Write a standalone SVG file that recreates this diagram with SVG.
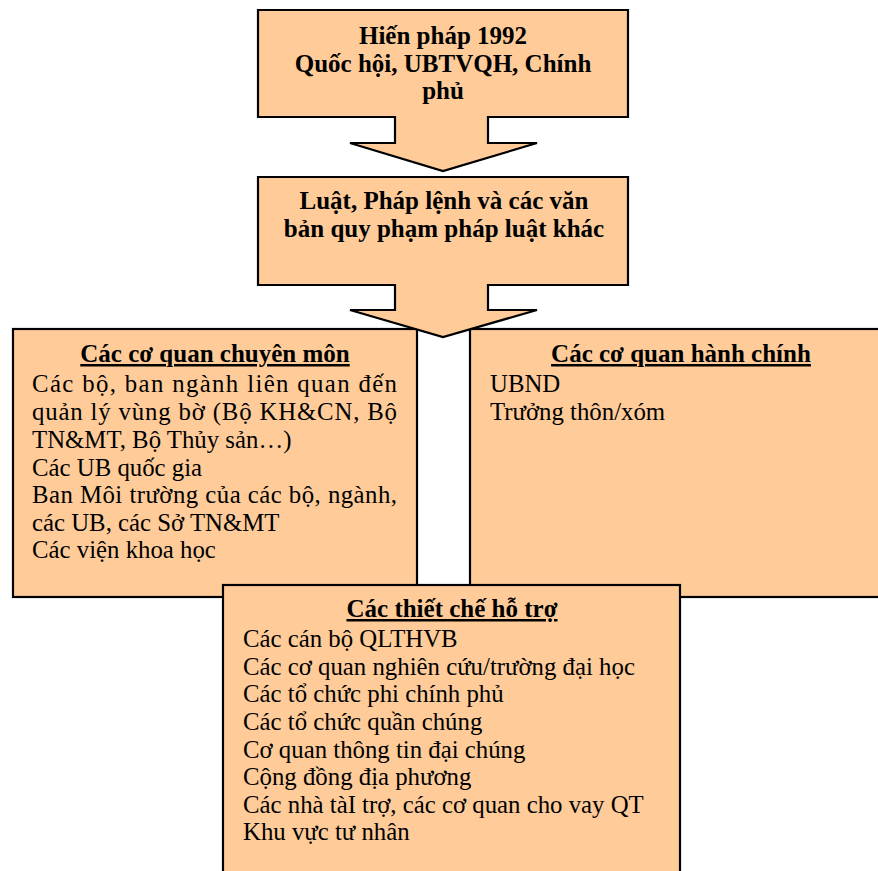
<svg xmlns="http://www.w3.org/2000/svg" width="878" height="871" viewBox="0 0 878 871">
<style>
.box{fill:#FFCC99;stroke:#000;stroke-width:2.2;stroke-linejoin:miter}
text{font-family:'Liberation Serif','DejaVu Serif',serif;font-size:24.8px;fill:#000}
.b{font-weight:bold;font-size:25px}
.u{text-decoration:underline}
.c{text-anchor:middle}
</style>
<rect x="0" y="0" width="878" height="871" fill="#fff"/>
<g id="left">
<rect class="box" x="13" y="329" width="404" height="268"/>
<text class="b u c" x="215" y="362">Các cơ quan chuyên môn</text>
<text x="32" y="392" textLength="365" lengthAdjust="spacing">Các bộ, ban ngành liên quan đến</text>
<text x="32" y="420" textLength="365" lengthAdjust="spacing">quản lý vùng bờ (Bộ KH&amp;CN, Bộ</text>
<text x="32" y="448">TN&amp;MT, Bộ Thủy sản…)</text>
<text x="32" y="476">Các UB quốc gia</text>
<text x="32" y="503" textLength="365" lengthAdjust="spacing">Ban Môi trường của các bộ, ngành,</text>
<text x="32" y="531">các UB, các Sở TN&amp;MT</text>
<text x="32" y="558">Các viện khoa học</text>
</g>
<g id="right">
<rect class="box" x="470" y="329" width="412" height="268"/>
<text class="b u c" x="681" y="362">Các cơ quan hành chính</text>
<text x="490" y="392">UBND</text>
<text x="490" y="420">Trưởng thôn/xóm</text>
</g>
<g id="support">
<rect class="box" x="223" y="585" width="457" height="295"/>
<text class="b u c" x="452" y="617">Các thiết chế hỗ trợ</text>
<text x="243" y="647">Các cán bộ QLTHVB</text>
<text x="243" y="675">Các cơ quan nghiên cứu/trường đại học</text>
<text x="243" y="702">Các tổ chức phi chính phủ</text>
<text x="243" y="730">Các tổ chức quần chúng</text>
<text x="243" y="758">Cơ quan thông tin đại chúng</text>
<text x="243" y="785">Cộng đồng địa phương</text>
<text x="243" y="813">Các nhà tàI trợ, các cơ quan cho vay QT</text>
<text x="243" y="840">Khu vực tư nhân</text>
</g>
<g id="connectors">
<path class="box" d="M258,10 H628 V117 H488 V143 H537 L443,171 L350,143 H395 V117 H258 Z"/>
<path class="box" d="M258,177 H628 V285 H488 V310 H537 L443,337 L350,310 H395 V285 H258 Z"/>
</g>
<g id="top">
<text class="b c" x="443" y="44">Hiến pháp 1992</text>
<text class="b c" x="443" y="72">Quốc hội, UBTVQH, Chính</text>
<text class="b c" x="443" y="99">phủ</text>
</g>
<g id="law">
<text class="b c" x="444" y="209">Luật, Pháp lệnh và các văn</text>
<text class="b c" x="444" y="237">bản quy phạm pháp luật khác</text>
</g>
</svg>
